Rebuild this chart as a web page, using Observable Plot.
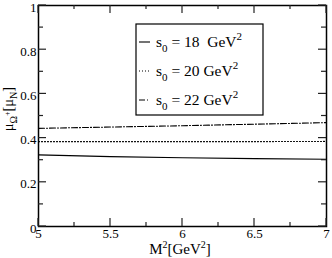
<!DOCTYPE html>
<html><head><meta charset="utf-8">
<script src="https://cdn.jsdelivr.net/npm/d3@7"></script>
<script src="https://cdn.jsdelivr.net/npm/@observablehq/plot@0.6"></script>
<style>
body{margin:0;background:#fff}
#chart svg{display:block}
</style>
</head><body><div id="chart"></div>
<script>
// data
const m2 = [5, 5.5, 6, 6.5, 7];
const s18 = [0.324, 0.316, 0.311, 0.307, 0.304];
const s20 = [0.384, 0.384, 0.384, 0.384, 0.385];
const s22 = [0.444, 0.450, 0.456, 0.463, 0.470];
const seriesS0 = ["18\u00a0", "20", "22"];
const seriesDash = ["none", "1,2", "6,2,1,2"];
const xTicks = [5, 5.5, 6, 6.5, 7];
const xTickLabels = ["5", "5.5", "6", "6.5", "7"];
const xMinor = [5.25, 5.75, 6.25, 6.75];
const yTicks = [0, 0.2, 0.4, 0.6, 0.8, 1];
const yTickLabels = ["0", "0.2", "0.4", "0.6", "0.8", "1"];
const yMinor = [0.1, 0.3, 0.5, 0.7, 0.9];

const FONT = '"Liberation Serif", "Times New Roman", Times, serif';

const series = [s18, s20, s22].map((vals, k) =>
  m2.map((x, i) => ({x, y: vals[i], s: seriesS0[k]})));

const W = 332, H = 258, ML = 38, MR = 6, MT = 5, MB = 32;

const plot = Plot.plot({
  width: W, height: H,
  marginLeft: ML, marginRight: MR, marginTop: MT, marginBottom: MB,
  x: {domain: [5, 7]},
  y: {domain: [0, 1]},
  style: {fontSize: "13px", color: "#000", background: "#fff", fontFamily: FONT},
  marks: [
    Plot.axisX(xTicks, {anchor: "bottom", tickSize: 0, tickPadding: 2, tickFormat: (d, i) => xTickLabels[i], label: null}),
    Plot.axisY(yTicks, {anchor: "left", tickSize: 0, tickPadding: 2, dy: 2, tickFormat: (d, i) => yTickLabels[i], label: null}),
    ...series.map((data, k) => Plot.line(data, {x: "x", y: "y", stroke: "#000", strokeWidth: 1.1, strokeDasharray: seriesDash[k] === "none" ? null : seriesDash[k]})),
    Plot.frame({stroke: "#000", strokeWidth: 1.5})
  ]
});
document.getElementById("chart").appendChild(plot);

const svg = d3.select(plot);
const sx = plot.scale("x"), sy = plot.scale("y");
const x0 = sx.range[0], x1 = sx.range[1], y0 = sy.range[0], y1 = sy.range[1];

// inward ticks on all four sides, placed through the Plot scales
const tg = svg.append("g").attr("stroke", "#222").attr("stroke-width", 1.2);
function xt(vals, len) {
  vals.forEach(v => {
    const px = sx.apply(v);
    tg.append("line").attr("x1", px).attr("x2", px).attr("y1", y0).attr("y2", y0 - len);
    tg.append("line").attr("x1", px).attr("x2", px).attr("y1", y1).attr("y2", y1 + len);
  });
}
function yt(vals, len) {
  vals.forEach(v => {
    const py = sy.apply(v);
    tg.append("line").attr("y1", py).attr("y2", py).attr("x1", x0).attr("x2", x0 + len);
    tg.append("line").attr("y1", py).attr("y2", py).attr("x1", x1).attr("x2", x1 - len);
  });
}
xt(xTicks, 8); xt(xMinor, 4); yt(yTicks, 8); yt(yMinor, 5);

// x label
const xl = svg.append("text").attr("x", (x0 + x1) / 2 - 2).attr("y", 254).attr("text-anchor", "middle")
  .attr("font-size", 15).attr("fill", "#000");
xl.append("tspan").text("M");
xl.append("tspan").attr("dy", -6).attr("font-size", 10).text("2");
xl.append("tspan").attr("dy", 6).text("[GeV");
xl.append("tspan").attr("dy", -6).attr("font-size", 10).text("2");
xl.append("tspan").attr("dy", 6).text("]");

// y label
const yl = svg.append("text").attr("transform", "translate(13,109) rotate(-90)")
  .attr("text-anchor", "middle").attr("font-size", 14.5).attr("fill", "#000");
yl.append("tspan").text("μ");
yl.append("tspan").attr("dy", 4).attr("font-size", 10).text("Ω");
yl.append("tspan").attr("dy", -7).attr("font-size", 8).text("+");
yl.append("tspan").attr("dy", 3).text("[μ");
yl.append("tspan").attr("dy", 4).attr("font-size", 10).text("N");
yl.append("tspan").attr("dy", -4).text("]");

// legend
const lg = svg.append("g");
lg.append("rect").attr("x", 136).attr("y", 24).attr("width", 127).attr("height", 91)
  .attr("fill", "#fff").attr("stroke", "#000").attr("stroke-width", 1.2);
seriesS0.forEach((s, k) => {
  const cy = 42 + k * 29;
  lg.append("line").attr("x1", 139).attr("x2", 150).attr("y1", cy).attr("y2", cy)
    .attr("stroke", "#000").attr("stroke-width", 1.1)
    .attr("stroke-dasharray", seriesDash[k] === "none" ? null : seriesDash[k]);
  const t = lg.append("text").attr("x", 156).attr("y", cy + 5).attr("font-size", 15.5)
    .attr("fill", "#000").attr("text-anchor", "start");
  t.append("tspan").text("s");
  t.append("tspan").attr("dy", 5).attr("font-size", 11).text("0");
  t.append("tspan").attr("dy", -5).text("\u00a0=\u00a0" + s + "\u00a0GeV");
  t.append("tspan").attr("dy", -7).attr("font-size", 11).text("2");
});

svg.style("font-family", FONT);
svg.selectAll("text").attr("font-family", FONT).style("font-family", FONT);
</script>
</body></html>
